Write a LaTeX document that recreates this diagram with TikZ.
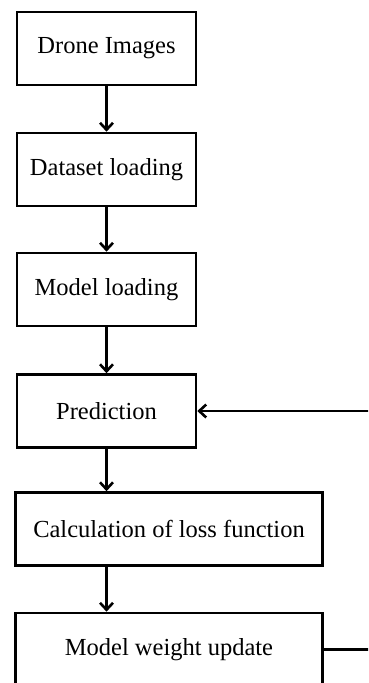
\documentclass[tikz,border=0pt]{standalone}
\usepackage{fontspec}
\setmainfont{Liberation Serif}
\usetikzlibrary{arrows.meta}
\begin{document}
\begin{tikzpicture}[x=1pt,y=-1pt,
  box/.style={draw, line width=2.6pt, inner sep=0pt, minimum height=73pt, align=center,
              font=\fontsize{24.5}{29}\selectfont},
  smallbox/.style={box, minimum width=179pt},
  widebox/.style={box, minimum width=307pt},
  arr/.style={line width=2.6pt, -{Straight Barb[length=7pt,width=13pt,line width=2.6pt]}}]
\useasboundingbox (0,0) rectangle (368,683);
\clip (0,0) rectangle (368,683);
\node[smallbox] (b1) at (106.5,48.5) {Drone Images};
\node[smallbox] (b2) at (106.5,169.5) {Dataset loading};
\node[smallbox] (b3) at (106.5,289.5) {Model loading};
\node[smallbox] (b4) at (106.5,411) {Prediction};
\node[widebox] (b5) at (169,529) {Calculation of loss function};
\node[widebox] (b6) at (169,649.5) {Model weight update};
\draw[arr] (b1.south) -- (b2.north);
\draw[arr] (b2.south) -- (b3.north);
\draw[arr] (b3.south) -- (b4.north);
\draw[arr] (b4.south) -- (b4.south |- b5.north);
\draw[arr] (b4.south |- b5.south) -- (b4.south |- b6.north);
\draw[arr] (b6.east) -- ++(60,0) |- (b4.east);
\end{tikzpicture}
\end{document}
